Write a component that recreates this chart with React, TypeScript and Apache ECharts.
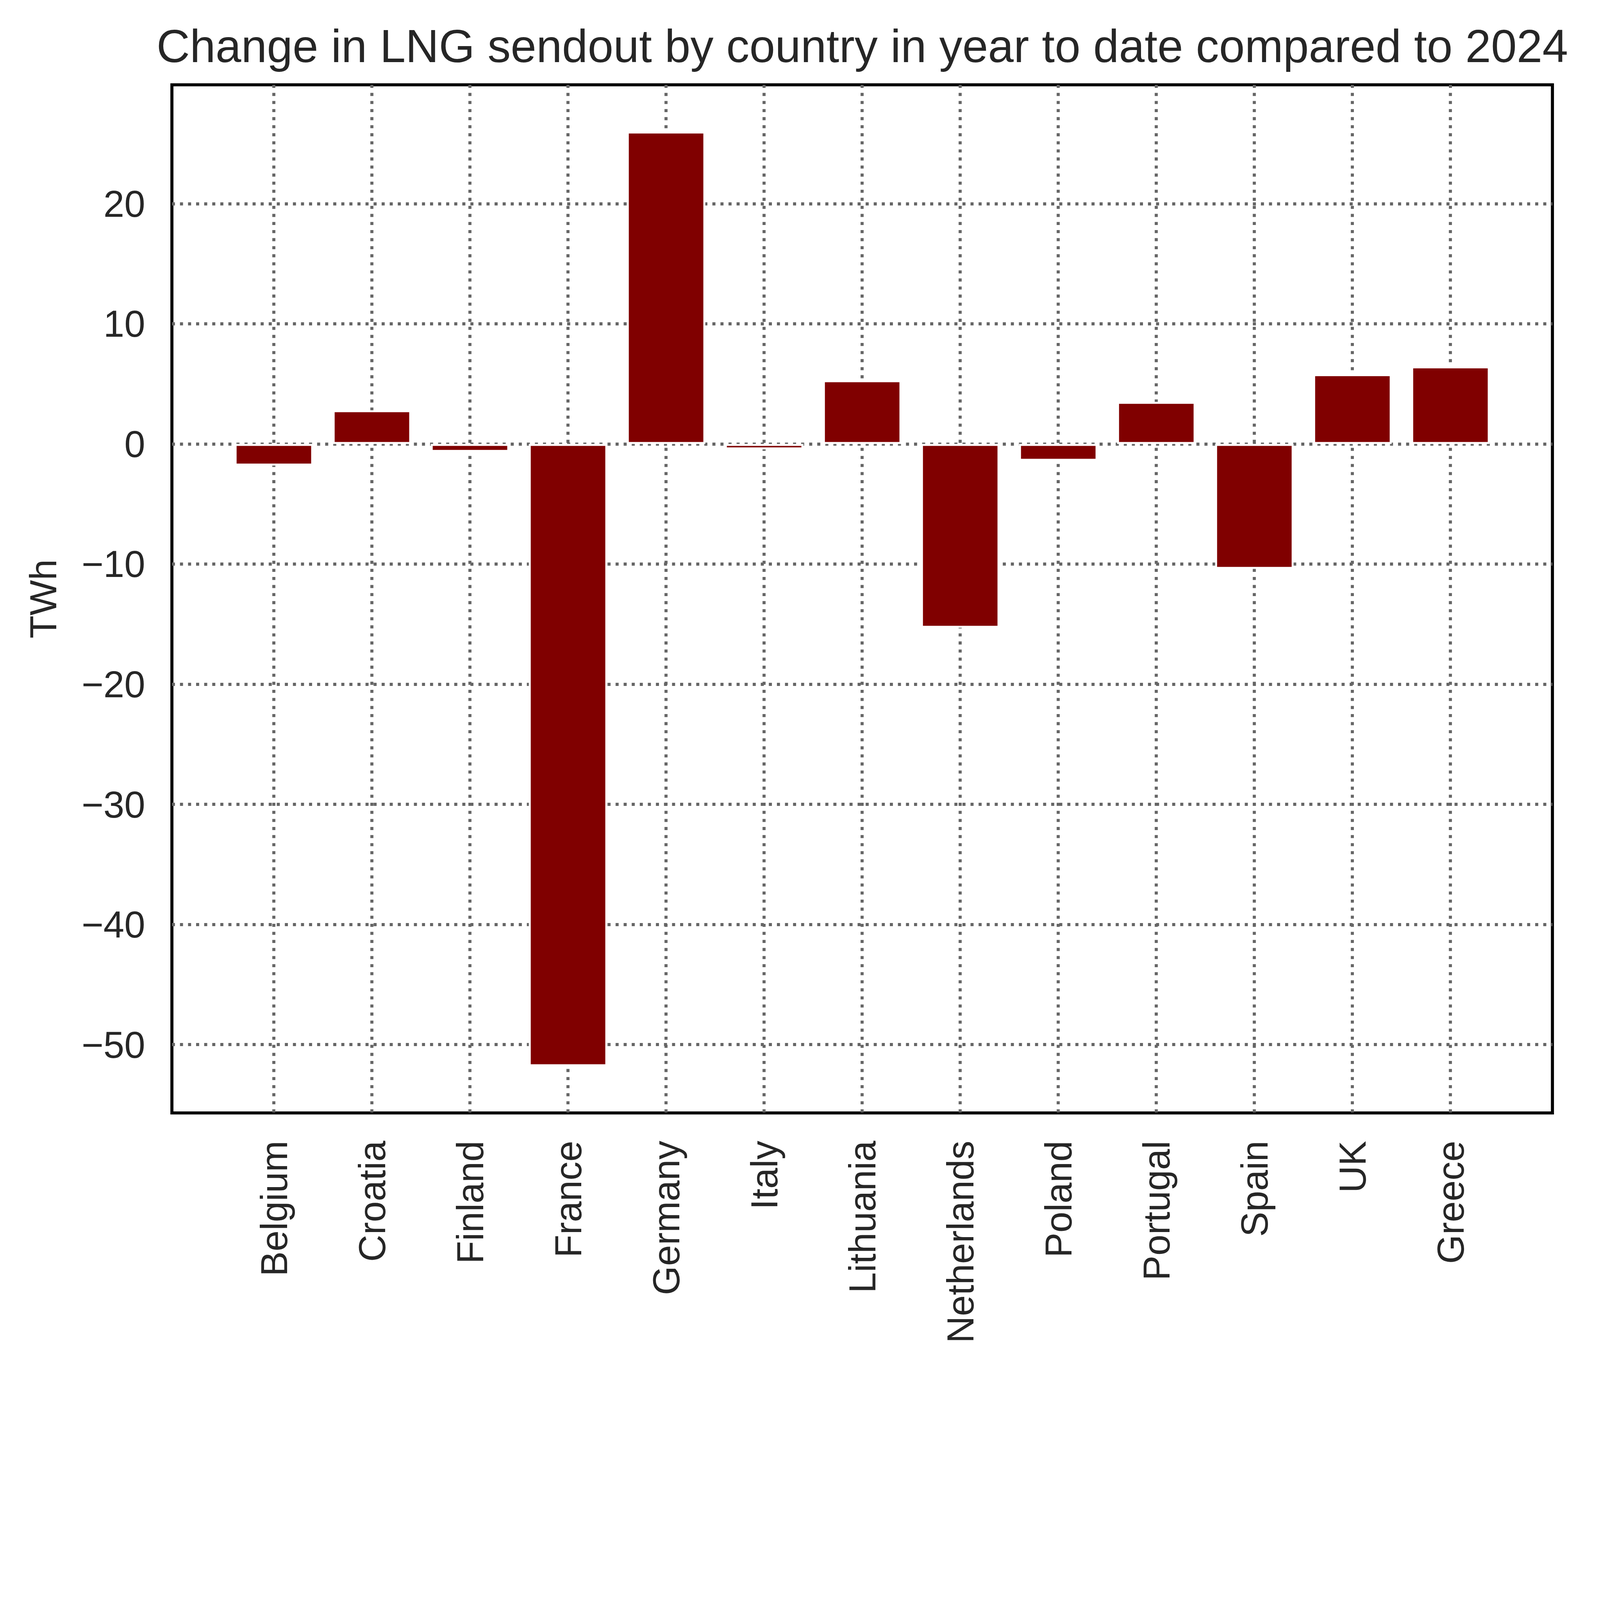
import { useEffect, useRef, useState } from "react";
import * as echarts from "echarts";

// values (TWh)
const countries = [
  "Belgium",
  "Croatia",
  "Finland",
  "France",
  "Germany",
  "Italy",
  "Lithuania",
  "Netherlands",
  "Poland",
  "Portugal",
  "Spain",
  "UK",
  "Greece",
];
const changes = [-1.8, 2.8, -0.66, -51.8, 26.0, -0.45, 5.3, -15.3, -1.4, 3.5, -10.4, 5.8, 6.45];
const yTicks = [-50, -40, -30, -20, -10, 0, 10, 20];
const xTicks = countries.map((_, i) => i);

const TITLE = "Change in LNG sendout by country in year to date compared to 2024";
const FONT = "'Liberation Sans', Arial, sans-serif";
const INK = "#262626";
// size of the reference picture; the chart is scaled down to fit the window
const BASE_W = 5752;
const BASE_H = 4946;

export default function App() {
  const chartRef = useRef<HTMLDivElement>(null);
  const [s] = useState(() =>
    Math.min(window.innerWidth / BASE_W, window.innerHeight / BASE_H, 1) || 1
  );

  useEffect(() => {
    if (!chartRef.current) return;
    const chart = echarts.init(chartRef.current, null, { renderer: "svg" });

    // matplotlib style autoscale, 5% margin on each side
    const lo = Math.min(...changes, 0);
    const hi = Math.max(...changes, 0);
    const yPad = (hi - lo) * 0.05;
    const xPad = (countries.length - 1 + 0.8) * 0.05;

    const gridLine = { color: "#666666", width: 11 * s, type: [11 * s, 18 * s] };
    const tickText = { fontSize: 135 * s, color: INK, fontFamily: FONT, lineHeight: 135 * s };

    chart.setOption({
      animation: false,
      backgroundColor: "#ffffff",
      textStyle: { fontFamily: FONT },
      graphic: [
        {
          type: "text",
          x: 3100 * s,
          y: 166 * s,
          style: {
            text: TITLE,
            fontSize: 166 * s,
            fontFamily: FONT,
            fill: INK,
            align: "center",
            verticalAlign: "middle",
            textAlign: "center",
            textVerticalAlign: "middle",
          },
        },
      ],
      grid: {
        left: 618 * s,
        right: 171 * s,
        top: 305 * s,
        bottom: 945 * s,
        show: true,
        borderColor: "#000000",
        borderWidth: 11 * s,
        backgroundColor: "transparent",
      },
      xAxis: {
        type: "value",
        min: -0.4 - xPad,
        max: countries.length - 1 + 0.4 + xPad,
        axisLine: { show: false },
        axisTick: { show: false, customValues: xTicks },
        axisLabel: {
          ...tickText,
          customValues: xTicks,
          formatter: (v: number) => countries[Math.round(v)] ?? "",
          rotate: 90,
          margin: 100 * s,
        },
        splitLine: { show: true, lineStyle: gridLine },
      },
      yAxis: {
        type: "value",
        min: lo - yPad,
        max: hi + yPad,
        name: "TWh",
        nameLocation: "middle",
        nameGap: 396 * s,
        nameTextStyle: { ...tickText },
        axisLine: { show: false },
        axisTick: { show: false, customValues: yTicks },
        axisLabel: {
          ...tickText,
          customValues: yTicks,
          formatter: (v: number) => (v < 0 ? "\u2212" + Math.abs(v) : String(v)),
          margin: 96 * s,
        },
        splitLine: { show: true, lineStyle: gridLine },
      },
      series: [
        {
          type: "bar",
          data: changes.map((v, i) => [i, v]),
          barWidth: "80%",
          itemStyle: { color: "#800000", borderColor: "#ffffff", borderWidth: 7 * s },
        },
      ],
    });

    return () => {
      chart.dispose();
    };
  }, [s]);

  return (
    <div
      ref={chartRef}
      style={{ position: "absolute", left: 0, top: 0, width: BASE_W * s, height: BASE_H * s }}
    ></div>
  );
}
